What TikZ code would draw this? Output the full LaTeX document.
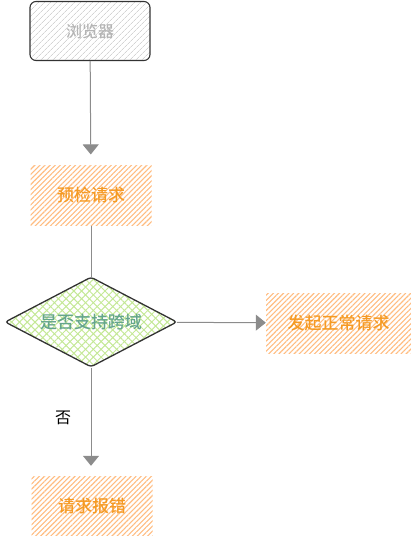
\documentclass[tikz,border=0pt]{standalone}
\usepackage{fontspec}
\setmainfont{Noto Sans CJK SC}
\newfontfamily\medfont{Noto Sans CJK SC}[UprightFont={* Medium}]
\usepackage{xcolor}
\usetikzlibrary{arrows.meta,shapes.geometric,patterns.meta}
\definecolor{flowGray}{RGB}{140,140,140}
\definecolor{flowDark}{RGB}{51,51,51}
\definecolor{hatchGray}{RGB}{212,212,212}
\definecolor{textGray}{RGB}{180,180,180}
\definecolor{hatchOrange}{RGB}{255,188,128}
\definecolor{textOrange}{RGB}{245,154,35}
\definecolor{hatchGreen}{RGB}{196,232,150}
\definecolor{textGreen}{RGB}{100,165,140}

\begin{document}
\begin{tikzpicture}[x=1pt,y=-1pt,
    startbox/.style={draw=flowDark, line width=1.1pt, rounded corners=6pt,
        minimum width=120pt, minimum height=59pt, inner sep=0pt,
        pattern={Lines[angle=45,distance=4pt,line width=0.8pt]}, pattern color=hatchGray,
        text=textGray, font=\medfont\fontsize{16}{18}\selectfont},
    stepbox/.style={minimum width=121pt, minimum height=60pt, inner sep=0pt,
        pattern={Lines[angle=45,distance=3.6pt,line width=1.1pt]}, pattern color=hatchOrange,
        text=textOrange, font=\medfont\fontsize{17}{19}\selectfont},
    decision/.style={diamond, aspect=2, draw=flowDark, line width=1.3pt, rounded corners=3pt,
        minimum width=172pt, minimum height=90pt, inner sep=0pt,
        preaction={pattern={Lines[angle=-45,distance=5.5pt,line width=1pt]}, pattern color=hatchGreen},
        pattern={Lines[angle=45,distance=5.5pt,line width=1pt]}, pattern color=hatchGreen,
        text=textGreen, font=\medfont\fontsize{17}{19}\selectfont},
    flow/.style={flowGray, line width=1pt, -{Triangle[width=16pt,length=10pt]}},
    flowline/.style={flowGray, line width=1pt}]
    \useasboundingbox (0,0) rectangle (411,536);

    % boxes
    \node[startbox] (browser) at (90,31) {浏览器};
    \node[stepbox] (preflight) at (91,195) {预检请求};
    \node[decision] (cors) at (91,322) {是否支持跨域};
    \node[stepbox, minimum width=145pt] (normal) at (338.5,323) {发起正常请求};
    \node[stepbox] (error) at (92,506) {请求报错};

    % connectors
    \draw[flow, shorten >=10pt] (browser) -- (preflight);
    \draw[flowline] (preflight) -- (cors);
    \draw[flow] (cors) -- (normal);
    \draw[flow, shorten >=10pt] (cors.south) -- (cors.south |- error.north)
        node[pos=0.5, left, xshift=-16pt, yshift=4pt, text=black, font=\fontsize{16}{18}\selectfont] (no) {否};
\end{tikzpicture}
\end{document}
